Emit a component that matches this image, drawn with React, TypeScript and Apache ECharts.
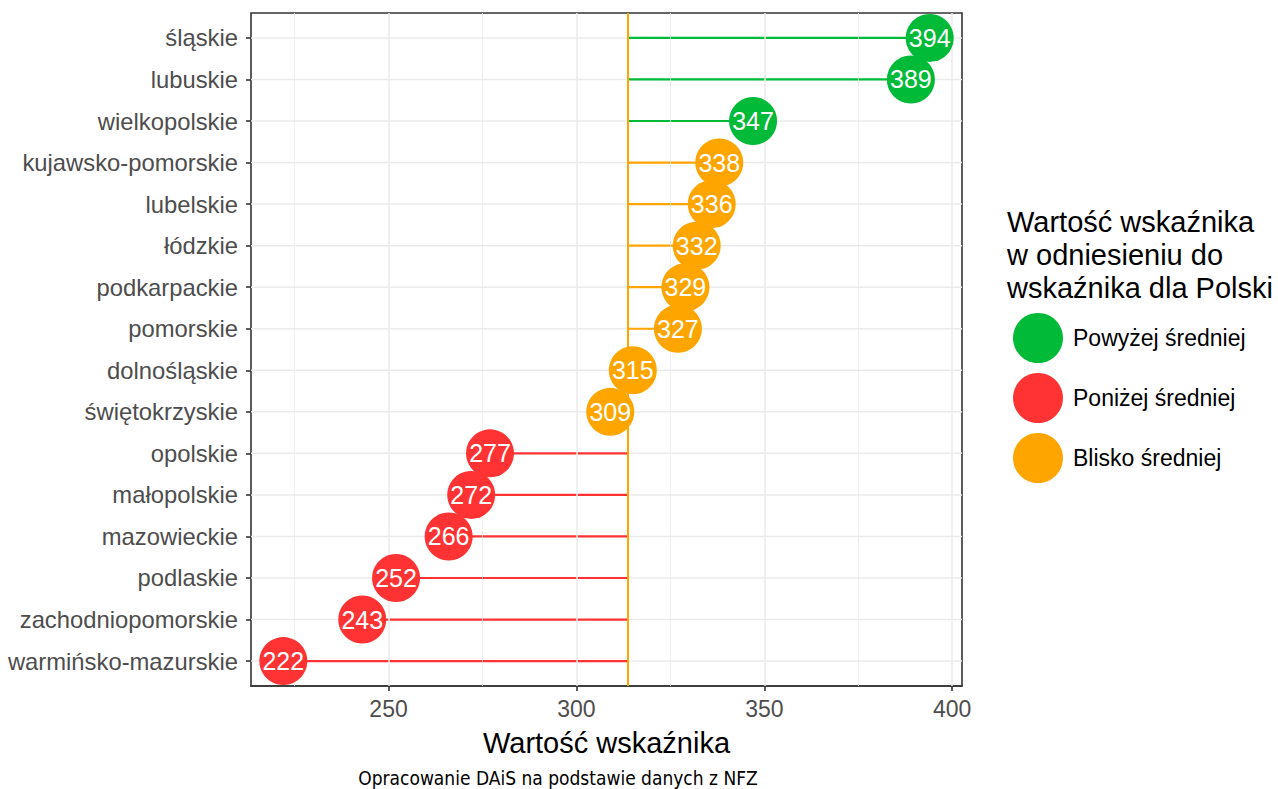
import React, { useEffect, useRef } from "react";
import * as echarts from "echarts";

// ---- data ----
const regions = [
  "śląskie", "lubuskie", "wielkopolskie", "kujawsko-pomorskie", "lubelskie",
  "łódzkie", "podkarpackie", "pomorskie", "dolnośląskie", "świętokrzyskie",
  "opolskie", "małopolskie", "mazowieckie", "podlaskie", "zachodniopomorskie",
  "warmińsko-mazurskie",
];
const values = [394, 389, 347, 338, 336, 332, 329, 327, 315, 309, 277, 272, 266, 252, 243, 222];
const groups = [
  "Powyżej średniej", "Powyżej średniej", "Powyżej średniej",
  "Blisko średniej", "Blisko średniej", "Blisko średniej", "Blisko średniej",
  "Blisko średniej", "Blisko średniej", "Blisko średniej",
  "Poniżej średniej", "Poniżej średniej", "Poniżej średniej", "Poniżej średniej",
  "Poniżej średniej", "Poniżej średniej",
];
const groupNames = ["Powyżej średniej", "Poniżej średniej", "Blisko średniej"];
const groupColors = ["#00BA38", "#FF3333", "#FFA500"];
const polandValue = 313.6;
const xMin = 213.4;
const xMax = 402.6;
const majorTicks = [250, 300, 350, 400];
const minorTicks = [225, 275, 325, 375];
const xTitle = "Wartość wskaźnika";
const legendTitle = "Wartość wskaźnika\nw odniesieniu do\nwskaźnika dla Polski";
const caption = "Opracowanie DAiS na podstawie danych z NFZ";

const FONT = "Liberation Sans, Arial, sans-serif";

export default function App() {
  const ref = useRef<HTMLDivElement>(null);
  useEffect(() => {
    document.body.style.margin = "0";
    const chart = echarts.init(ref.current!, undefined, { renderer: "svg" });

    const panelLeft = 251, panelTop = 13, panelW = 711, panelH = 673;
    const unit = panelH / (regions.length - 1 + 1.2);
    const g1Top = panelTop + 0.1 * unit;
    const g1H = regions.length * unit;

    const colorOf = (g: string) => groupColors[groupNames.indexOf(g)];

    const scatterSeries = groupNames.map((name, gi) => ({
      name,
      type: "scatter",
      xAxisIndex: 1,
      yAxisIndex: 1,
      z: 5,
      symbol: "circle",
      symbolSize: 48,
      itemStyle: { color: groupColors[gi], opacity: 1 },
      label: {
        show: true,
        position: "inside",
        color: "#fff",
        fontSize: 25,
        fontFamily: FONT,
        formatter: (p: any) => String(p.value[0]),
      },
      emphasis: { disabled: true },
      data: regions
        .map((r, i) => ({ r, i }))
        .filter(({ i }) => groups[i] === name)
        .map(({ r, i }) => [values[i], r]),
    }));

    const option: any = {
      animation: false,
      backgroundColor: "#fff",
      textStyle: { fontFamily: FONT },
      title: {
        text: legendTitle,
        left: 1007,
        top: 205,
        padding: 0,
        textStyle: {
          fontSize: 29,
          fontWeight: "normal",
          color: "#000",
          fontFamily: FONT,
          lineHeight: 33,
        },
      },
      legend: {
        data: groupNames,
        orient: "vertical",
        left: 1013,
        top: 313,
        padding: 0,
        itemWidth: 50,
        itemHeight: 50,
        itemGap: 10,
        icon: "circle",
        selectedMode: false,
        textStyle: { fontSize: 23, color: "#000", fontFamily: FONT, padding: [0, 0, 0, 5] },
      },
      grid: [
        {
          left: panelLeft, top: panelTop, width: panelW, height: panelH,
          show: true, borderColor: "#333", borderWidth: 1.6, backgroundColor: "#fff",
        },
        { left: panelLeft, top: g1Top, width: panelW, height: g1H },
      ],
      xAxis: [
        {
          type: "value", gridIndex: 0, min: xMin, max: xMax,
          name: xTitle, nameLocation: "middle", nameGap: 42,
          nameTextStyle: { fontSize: 29, color: "#000", fontFamily: FONT },
          axisLine: { show: true, lineStyle: { color: "#333", width: 1.6 } },
          axisTick: { show: true, length: 5, customValues: majorTicks, lineStyle: { color: "#333", width: 1.6 } },
          axisLabel: {
            customValues: majorTicks,
            fontSize: 23, color: "#4D4D4D", margin: 11, fontFamily: FONT,
            formatter: (v: number) => (majorTicks.includes(v) ? String(v) : ""),
          },
          splitLine: { show: false },
        },
        {
          type: "value", gridIndex: 1, min: xMin, max: xMax, show: false,
          splitLine: { show: false },
        },
      ],
      yAxis: [
        { type: "value", gridIndex: 0, min: 0, max: 1, show: false, splitLine: { show: false } },
        {
          type: "category", gridIndex: 1, inverse: true, data: regions,
          axisLine: { show: false },
          axisTick: { show: true, alignWithLabel: true, length: 5, lineStyle: { color: "#333", width: 1.6 } },
          axisLabel: { fontSize: 23.8, color: "#4D4D4D", margin: 13, fontFamily: FONT },
          splitLine: { show: false },
        },
      ],
      series: [
        {
          name: "vgrid",
          type: "scatter",
          xAxisIndex: 0, yAxisIndex: 0, z: 1, silent: true,
          data: [],
          markLine: {
            silent: true, symbol: "none", label: { show: false },
            data: [
              ...minorTicks.map((v) => ({ xAxis: v, lineStyle: { color: "#EBEBEB", width: 0.8, type: "solid" } })),
              ...majorTicks.map((v) => ({ xAxis: v, lineStyle: { color: "#EBEBEB", width: 1.5, type: "solid" } })),
            ],
          },
        },
        {
          name: "segments",
          type: "custom",
          xAxisIndex: 1, yAxisIndex: 1, z: 2, silent: true,
          renderItem: (params: any, api: any) => {
            const v = api.value(0);
            const y = api.value(1);
            const p1 = api.coord([polandValue, y]);
            const p2 = api.coord([v, y]);
            const a = api.coord([xMin, y]);
            const b = api.coord([xMax, y]);
            return {
              type: "group",
              children: [
                {
                  type: "line",
                  z2: 0,
                  shape: { x1: a[0], y1: a[1], x2: b[0], y2: b[1] },
                  style: { stroke: "#EBEBEB", lineWidth: 1.5 },
                },
                {
                  type: "line",
                  z2: 10,
                  shape: { x1: p1[0], y1: p1[1], x2: p2[0], y2: p2[1] },
                  style: { stroke: api.visual("color"), lineWidth: 2.2 },
                },
              ],
            };
          },
          data: regions.map((r, i) => ({ value: [values[i], r], itemStyle: { color: colorOf(groups[i]) } })),
        },
        {
          name: "mean",
          type: "scatter",
          xAxisIndex: 0, yAxisIndex: 0, z: 3, silent: true,
          data: [],
          markLine: {
            silent: true, symbol: "none", label: { show: false },
            data: [{ xAxis: polandValue, lineStyle: { color: "#FFA500", width: 2, type: "solid" } }],
          },
        },
        ...scatterSeries,
      ],
      graphic: [
        {
          type: "text",
          x: 558,
          y: 778,
          style: {
            text: caption,
            x: 0, y: 0,
            fontSize: 19,
            fontFamily: "DejaVu Sans Condensed, DejaVu Sans, sans-serif",
            fill: "#000",
            textAlign: "center",
            textVerticalAlign: "middle",
          },
        },
      ],
    };
    chart.setOption(option);
    return () => chart.dispose();
  }, []);
  return <div ref={ref} style={{ width: 1278, height: 789 }} />;
}
